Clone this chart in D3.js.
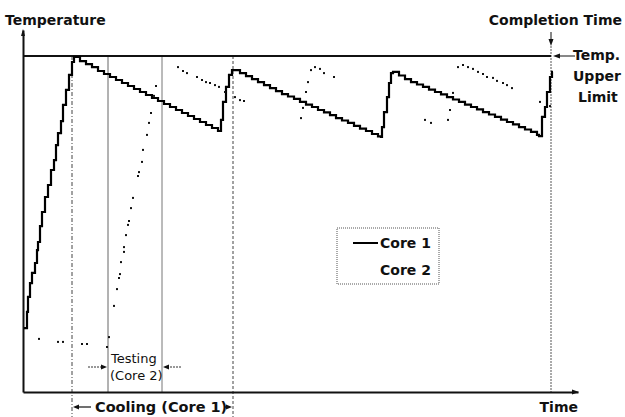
<!DOCTYPE html>
<html><head><meta charset="utf-8">
<script src="https://cdn.jsdelivr.net/npm/d3@7"></script>
<style>body{margin:0;background:#fff}svg text{font-family:"DejaVu Sans",sans-serif;fill:#111}</style>
</head><body><svg id="c" width="625" height="417"></svg>
<script>
// ---- data (time in arbitrary units, temperature in arbitrary units) ----
const core1Time = [0.2,0.8,1.0,1.4,1.8,2.4,2.8,3.0,3.4,3.8,4.4,5.0,5.6,6.2,6.6,7.0,7.6,8.0,8.6,9.2,9.8,10.2,
  11.4,12.6,13.8,15.0,16.2,17.4,18.6,19.8,21.0,22.2,23.4,24.6,25.8,27.0,28.2,29.4,30.6,31.8,33.0,34.2,35.4,36.6,37.8,39.0,
  39.6,40.0,40.6,41.2,41.8,
  43.4,44.6,45.8,47.0,48.2,49.4,50.6,51.8,53.0,54.2,55.4,56.6,57.8,59.0,60.2,61.4,62.6,63.8,65.0,66.2,67.4,68.6,69.8,71.0,71.6,
  71.8,72.2,72.8,73.2,73.6,74.0,
  75.2,76.4,77.6,78.8,80.0,81.2,82.4,83.6,84.8,86.0,87.2,88.4,89.6,90.8,92.0,93.2,94.4,95.6,96.8,98.0,99.2,100.4,101.6,102.8,103.2,
  103.8,104.4,104.8,105.4,105.8,106.0];
const core1Temp = [21.3,26.7,31.7,36.3,39.7,43.0,47.3,50.0,55.3,60.0,65.0,69.0,74.0,77.3,82.3,86.3,90.3,95.7,100.7,105.7,110.0,111.7,
  110.3,109.3,108.3,107.0,106.0,105.0,104.0,103.0,102.0,101.0,100.0,99.0,98.0,97.0,96.0,95.0,94.0,93.0,92.0,91.0,90.0,89.0,88.0,87.0,
  90.7,96.7,101.7,105.7,107.3,
  106.3,105.3,104.3,103.3,102.3,101.3,100.3,99.3,98.5,97.7,96.7,95.8,95.0,94.0,93.2,92.3,91.3,90.5,89.7,88.7,87.8,87.0,86.0,85.2,85.0,
  88.3,93.3,98.3,103.0,106.3,106.7,
  105.5,104.3,103.3,102.5,101.7,100.8,100.0,99.2,98.3,97.5,96.7,95.8,95.0,94.2,93.3,92.5,91.7,90.8,90.0,89.2,88.3,87.5,86.7,85.7,85.3,
  91.7,95.0,100.0,105.0,106.7,106.7];
const core2Time = [3.2,7.0,8.0,11.8,12.8,16.8,17.2,18.2,18.8,19.2,19.4,19.6,20.2,20.2,20.6,21.0,21.2,21.6,22.0,23.0,23.2,23.8,24.0,24.8,25.2,25.6,26.2,26.6,
  31.0,32.0,32.8,34.8,35.8,36.6,37.4,38.4,39.2,40.4,42.4,43.4,44.2,
  55.6,56.0,56.6,57.0,57.6,58.4,59.4,60.2,62.2,
  80.4,81.6,85.0,85.4,86.0,87.0,88.0,89.0,90.0,91.0,92.0,92.8,94.0,94.8,96.0,96.8,97.8,103.4,105.4];
const core2Temp = [17.7,16.7,16.7,16.0,16.0,15.0,18.3,28.7,34.3,38.0,39.3,43.3,46.7,48.3,52.3,55.7,57.0,61.3,64.7,72.0,73.3,76.7,80.7,85.7,89.7,93.0,98.7,102.0,
  108.3,107.0,106.3,105.0,104.0,103.3,103.0,102.3,101.7,100.0,98.3,97.3,97.0,
  91.3,94.7,100.0,103.3,107.3,108.3,107.7,106.3,105.0,
  90.7,89.7,90.7,94.0,99.7,108.3,109.0,108.3,107.7,106.7,106.0,105.0,104.7,103.7,103.0,102.3,101.3,96.7,95.3];
const tempUpperLimit = 112;
const coolStart = 9.8, testStart = 17.0, testEnd = 27.8, coolEnd = 42.0, completionTime = 105.6;
const seriesNames = ["Core 1", "Core 2"];

// ---- scales ----
const svg = d3.select("#c");
const x = d3.scaleLinear().domain([0, 111]).range([23, 578]);
const y = d3.scaleLinear().domain([0, 112]).range([392, 56]);
const yAxisScale = y.copy().domain([0, y.invert(30)]).range([392, 30]);

function head(px, py, dir, size, w) {
  // dir: 'up','down','left','right'
  const s = size || 7, h = (w || 2.5);
  let p;
  if (dir === 'up') p = [[px, py], [px - h, py + s], [px + h, py + s]];
  if (dir === 'down') p = [[px, py], [px - h, py - s], [px + h, py - s]];
  if (dir === 'left') p = [[px, py], [px + s, py - h], [px + s, py + h]];
  if (dir === 'right') p = [[px, py], [px - s, py - h], [px - s, py + h]];
  svg.append("path").attr("d", "M" + p.map(q => q.join(",")).join("L") + "Z").attr("fill", "#111");
}

// ---- vertical phase markers ----
const vl = svg.append("g");
vl.append("line").attr("x1", x(coolStart)).attr("x2", x(coolStart)).attr("y1", y(tempUpperLimit)).attr("y2", 417)
  .attr("stroke", "#444").attr("stroke-width", 1).attr("stroke-dasharray", "4,2,1,2");
vl.append("line").attr("x1", x(testStart)).attr("x2", x(testStart)).attr("y1", y(tempUpperLimit)).attr("y2", y(0))
  .attr("stroke", "#666").attr("stroke-width", 1);
vl.append("line").attr("x1", x(testEnd)).attr("x2", x(testEnd)).attr("y1", y(tempUpperLimit)).attr("y2", y(0))
  .attr("stroke", "#777").attr("stroke-width", 1);
vl.append("line").attr("x1", x(coolEnd)).attr("x2", x(coolEnd)).attr("y1", y(tempUpperLimit)).attr("y2", 417)
  .attr("stroke", "#444").attr("stroke-width", 1).attr("stroke-dasharray", "3,2");
vl.append("line").attr("x1", x(completionTime)).attr("x2", x(completionTime)).attr("y1", 46).attr("y2", y(0))
  .attr("stroke", "#555").attr("stroke-width", 1).attr("stroke-dasharray", "2,1");

// ---- axes ----
const yAxis = svg.append("g").attr("transform", `translate(${x(0)},0)`)
  .call(d3.axisLeft(yAxisScale).tickValues([]).tickSizeOuter(0));
yAxis.select(".domain").attr("stroke", "#111").attr("stroke-width", 2);
const xAxis = svg.append("g").attr("transform", `translate(0,${y(0)})`)
  .call(d3.axisBottom(x).tickValues([]).tickSizeOuter(0));
xAxis.select(".domain").attr("stroke", "#111").attr("stroke-width", 2);
head(x(0), 29, 'up', 7, 2);
head(x(111) + 1, y(0), 'right', 7, 2.5);

// ---- upper limit line ----
svg.append("line").attr("x1", x(0)).attr("x2", x(completionTime)).attr("y1", y(tempUpperLimit)).attr("y2", y(tempUpperLimit))
  .attr("stroke", "#111").attr("stroke-width", 2);

// ---- series ----
const core1 = core1Time.map((t, i) => [t, core1Temp[i]]);
const core2 = core2Time.map((t, i) => [t, core2Temp[i]]);
svg.append("path").datum(core1)
  .attr("d", d3.line().x(d => x(d[0])).y(d => y(d[1])).curve(d3.curveStepAfter))
  .attr("fill", "none").attr("stroke", "#000").attr("stroke-width", 2.2);
svg.append("g").selectAll("rect").data(core2).join("rect")
  .attr("x", d => x(d[0]) - 1).attr("y", d => y(d[1]) - 1).attr("width", 2).attr("height", 2).attr("fill", "#111");

// ---- legend ----
const lg = svg.append("g").attr("transform", "translate(337,228)");
lg.append("rect").attr("width", 102).attr("height", 56).attr("fill", "#fff")
  .attr("stroke", "#555").attr("stroke-width", 1).attr("stroke-dasharray", "1,1");
lg.append("line").attr("x1", 16).attr("x2", 41).attr("y1", 15).attr("y2", 15).attr("stroke", "#000").attr("stroke-width", 2);
lg.selectAll("text").data(seriesNames).join("text")
  .attr("x", 43).attr("y", (d, i) => 20 + i * 27).attr("font-size", 14).attr("font-weight", "bold").text(d => d);

// ---- labels ----
const T = (tx, ty, s, opt) => {
  const e = svg.append("text").attr("x", tx).attr("y", ty).text(s).attr("font-size", (opt && opt.size) || 14)
    .attr("font-weight", (opt && opt.weight) || "bold");
  if (opt && opt.anchor) e.attr("text-anchor", opt.anchor);
  return e;
};
T(5, 25, "Temperature");
T(622, 25, "Completion Time", {anchor: "end"});
T(578, 412, "Time", {anchor: "end"});
T(573, 60, "Temp.");
T(573, 81, "Upper");
T(578, 102, "Limit");
T(111, 363, "Testing", {size: 13, weight: "normal"});
T(110, 380, "(Core 2)", {size: 13, weight: "normal"});
T(95, 412, "Cooling (Core 1)", {size: 14.5});

// ---- annotation arrows ----
svg.append("line").attr("x1", x(completionTime)).attr("x2", x(completionTime)).attr("y1", 32).attr("y2", 40).attr("stroke", "#111");
head(x(completionTime), 46, 'down', 7, 2.5);
svg.append("line").attr("x1", 575).attr("x2", 558).attr("y1", y(tempUpperLimit)).attr("y2", y(tempUpperLimit)).attr("stroke", "#111");
head(x(completionTime) + 2, y(tempUpperLimit), 'left', 7, 2.5);
// testing arrows
svg.append("line").attr("x1", 88).attr("x2", x(testStart) - 5).attr("y1", 367).attr("y2", 367).attr("stroke", "#333").attr("stroke-dasharray", "2,1");
head(x(testStart) - 1, 367, 'right', 6, 2.5);
svg.append("line").attr("x1", 181).attr("x2", x(testEnd) + 5).attr("y1", 367).attr("y2", 367).attr("stroke", "#333").attr("stroke-dasharray", "2,1");
head(x(testEnd) + 1, 367, 'left', 6, 2.5);
// cooling arrows
svg.append("line").attr("x1", x(coolStart) + 4).attr("x2", 91).attr("y1", 407).attr("y2", 407).attr("stroke", "#111").attr("stroke-width", 1.2);
head(x(coolStart) + 1, 407, 'left', 6, 2.5);
svg.append("line").attr("x1", 224).attr("x2", x(coolEnd) - 4).attr("y1", 407).attr("y2", 407).attr("stroke", "#111").attr("stroke-width", 1.2);
head(x(coolEnd) - 1, 407, 'right', 6, 2.5);
</script></body></html>
